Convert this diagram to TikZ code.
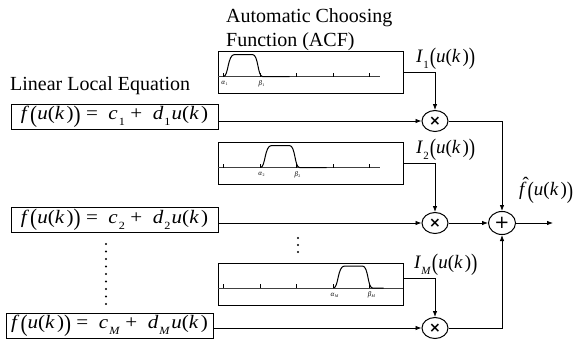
\documentclass[tikz,border=0pt]{standalone}
\usepackage{fontspec}
\setmainfont{Liberation Serif}
\newfontfamily\symf{DejaVu Sans}
\usepackage{graphicx}
\usetikzlibrary{arrows.meta,calc,shapes.geometric}

\newcommand\bigL{\raisebox{-0.12em}{\scalebox{1}[1.25]{(}}}
\newcommand\bigR{\raisebox{-0.12em}{\scalebox{1}[1.25]{)}}}
\newcommand\sbs[1]{\raisebox{-0.3em}{\fontsize{11}{11}\selectfont #1}}
\newcommand\uk{\textit{u}(\textit{k}\kern2pt)}
\newcommand\eqn[1]{\scalebox{1.11}[1]{\textit{f}\kern1pt\bigL\uk\bigR\ = \ \textit{c}\kern1pt\sbs{#1}\ + \ \textit{d}\kern1pt\sbs{#1}\kern1pt\uk}}
\newcommand\gl[2]{\textit{#1}\kern0.3pt\raisebox{-0.3ex}{\fontsize{4}{4}\selectfont #2}}
\newcommand\fhat{\rlap{\kern3.5pt\raisebox{0.3em}{ˆ}}\textit{f}}

\tikzset{
  txt/.style={inner sep=0pt, font=\fontsize{20}{22}\selectfont, anchor=west},
  eqbox/.style={draw, line width=1pt, minimum width=207pt, minimum height=25pt, inner sep=0pt, font=\fontsize{19}{21}\selectfont},
  acfbox/.style={draw, line width=1pt, minimum width=185pt, minimum height=42pt, inner sep=0pt},
  axisl/.style={line width=0.9pt, draw=black!75},
  tickl/.style={line width=1.6pt},
  bump/.style={line width=1pt},
  greek/.style={inner sep=0pt, font=\fontsize{7}{7}\selectfont},
  mult/.style={draw, ellipse, line width=1pt, minimum width=26pt, minimum height=21pt, inner sep=0pt},
  sumn/.style={draw, ellipse, line width=1pt, minimum width=27pt, minimum height=23pt, inner sep=0pt},
  conn/.style={line width=0.8pt, -{Latex[length=6pt,width=4.5pt]}},
  lab/.style={inner sep=0pt, anchor=west, font=\fontsize{19}{21}\selectfont},
}

\begin{document}
\begin{tikzpicture}[x=1pt,y=-1pt]
\useasboundingbox (0,0) rectangle (587,341);

% titles
\node[txt] (t1) at (226,18) {Automatic Choosing};
\node[txt] (t2) at (226,42) {Function (ACF)};
\node[txt] (t3) at (10,86) {Linear Local Equation};

% equation boxes
\node[eqbox] (eq1) at (114.5,116.5) {\eqn{1}};
\node[eqbox] (eq2) at (114.5,220) {\eqn{2}};
\node[eqbox] (eq3) at (109.5,325.5) {\eqn{\textit{M}}};

% ACF boxes
\node[acfbox] (acf1) at (310.5,72.5) {};
\node[acfbox] (acf2) at (310.5,163.5) {};
\node[acfbox] (acf3) at (310.5,284) {};

% plots inside ACF boxes
\begin{scope}[shift={(acf1.west)}]
  \draw[axisl] (0,4) -- (162,4);
  \foreach \t in {6,43,79,116,152} \draw[tickl] (\t,4.3) -- (\t,0);
  \draw[bump] (6,4) .. controls (11,4) and (10,-18) .. (17,-18) -- (35,-18) .. controls (41,-18) and (40,4) .. (45,4) -- (72,4);
  \node[greek] (a1) at (7,11) {\gl{α}{1}};
  \node[greek] (b1) at (44,11) {\gl{β}{1}};
\end{scope}
\begin{scope}[shift={(acf2.west)}]
  \draw[axisl] (0,4) -- (162,4);
  \foreach \t in {6,43,79,116,152} \draw[tickl] (\t,4.3) -- (\t,0);
  \draw[bump] (43,4) .. controls (48,4) and (47,-18) .. (54,-18) -- (72,-18) .. controls (78,-18) and (77,4) .. (82,4) -- (109,4);
  \node[greek] (a2) at (44,11) {\gl{α}{2}};
  \node[greek] (b2) at (80,11) {\gl{β}{2}};
\end{scope}
\begin{scope}[shift={(acf3.west)}]
  \draw[axisl] (0,4) -- (185,4);
  \foreach \t in {6,43,79,116,152} \draw[tickl] (\t,4.3) -- (\t,0);
  \draw[bump] (116,4) .. controls (121,4) and (120,-18) .. (127,-18) -- (145,-18) .. controls (151,-18) and (150,4) .. (155,4) -- (166,4);
  \node[greek] (a3) at (117,11) {\gl{α}{\textit{M}}};
  \node[greek] (b3) at (154,11) {\gl{β}{\textit{M}}};
\end{scope}

% operators
\node[mult] (m1) at (435,121) {\symf\fontsize{14}{14}\selectfont\bfseries ×};
\node[mult] (m2) at (435,223) {\symf\fontsize{14}{14}\selectfont\bfseries ×};
\node[mult] (m3) at (435,328) {\symf\fontsize{14}{14}\selectfont\bfseries ×};
\node[sumn] (s) at (502,223) {\symf\fontsize{18}{18}\selectfont +};
\coordinate (out) at (553,223);

% labels
\node[lab] (i1) at (416,59) {\textit{I}\sbs{1}\kern1pt\bigL\uk\bigR};
\node[lab] (i2) at (416,150) {\textit{I}\sbs{2}\kern1pt\bigL\uk\bigR};
\node[lab] (i3) at (414,265) {\textit{I}\sbs{\textit{M}}\kern1pt\bigL\uk\bigR};
\node[lab] (fh) at (519,190) {\fhat\kern1pt\bigL\uk\bigR};

% connectors
\draw[conn] (eq1.east |- m1) -- (m1.west);
\draw[conn] (eq2.east |- m2) -- (m2.west);
\draw[conn] (eq3.east |- m3) -- (m3.west);
\draw[conn] (acf1.east) -| (m1.north);
\draw[conn] (acf2.east) -| (m2.north);
\draw[conn] ($(acf3.east)+(0,-6)$) -| (m3.north);
\draw[conn] (m1.east) -| (s.north);
\draw[conn] (m2.east) -- (s.west);
\draw[conn] (m3.east) -| (s.south);
\draw[conn] (s.east) -- (out);

% dots
\foreach \yy in {244,251.5,...,305} \fill (106,\yy) circle (1.1pt);
\foreach \yy in {238,245,252} \fill (298,\yy) circle (1.1pt);
\end{tikzpicture}
\end{document}
